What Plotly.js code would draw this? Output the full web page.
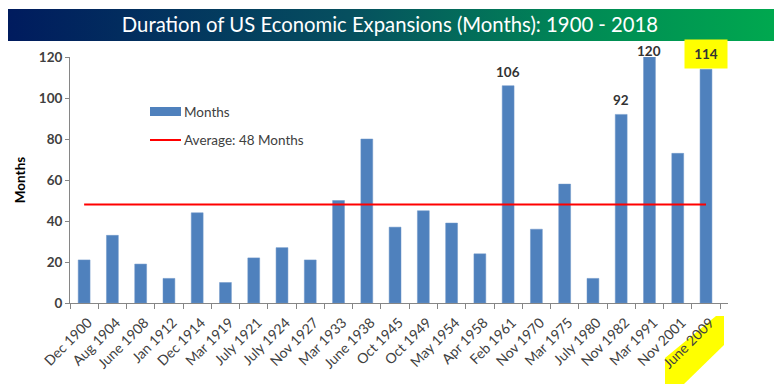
<!DOCTYPE html>
<html>
<head>
<meta charset="utf-8">
<script src="https://cdn.plot.ly/plotly-3.0.1.min.js"></script>
<style>html,body{margin:0;padding:0;background:#fff;}#chart{width:780px;height:389px;}</style>
</head>
<body>
<div id="chart"></div>
<script>
const categories = ["Dec 1900","Aug 1904","June 1908","Jan 1912","Dec 1914","Mar 1919","July 1921","July 1924","Nov 1927","Mar 1933","June 1938","Oct 1945","Oct 1949","May 1954","Apr 1958","Feb 1961","Nov 1970","Mar 1975","July 1980","Nov 1982","Mar 1991","Nov 2001","June 2009"];
const months = [21,33,19,12,44,10,22,27,21,50,80,37,45,39,24,106,36,58,12,92,120,73,114];
const averageMonths = 48;
const labeledCategories = ["Feb 1961","Nov 1982","Mar 1991","June 2009"];
const highlightedCategory = "June 2009";
const seriesNames = ["Months","Average: 48 Months"];
const chartTitle = "Duration of US Economic Expansions (Months): 1900 - 2018";
const yTitle = "Months";

// plot area geometry in pixels
const W = 780, H = 389;
const L = 70, R = 52, T = 57, B = 86;
const pw = W - L - R, ph = H - T - B;
const px = x => (x - L) / pw;
const py = y => (H - B - y) / ph;

const FONT = "Lato, 'Open Sans', sans-serif";
const TXT = "#404040";

const gradSvg = '<svg xmlns="http://www.w3.org/2000/svg" width="766" height="32" preserveAspectRatio="none">' +
  '<defs><linearGradient id="g" x1="0" y1="0" x2="1" y2="0">' +
  '<stop offset="0" stop-color="#001b5e"/><stop offset="0.45" stop-color="#06505f"/>' +
  '<stop offset="0.75" stop-color="#008a55"/><stop offset="1" stop-color="#00a84f"/>' +
  '</linearGradient></defs><rect width="766" height="32" fill="url(#g)"/></svg>';
const gradUri = "data:image/svg+xml;base64," + btoa(gradSvg);

const traces = [
  {
    type: "bar", x: categories, y: months, name: seriesNames[0],
    marker: {color: "#4f81bd", line: {color: "#6f97c9", width: 0.5}},
    showlegend: false, hoverinfo: "x+y"
  },
  {
    type: "scatter", mode: "lines", x: categories, y: categories.map(() => averageMonths),
    name: seriesNames[1], line: {color: "#ff0000", width: 2}, showlegend: false
  }
];

const annotations = labeledCategories.map(c => {
  const v = months[categories.indexOf(c)];
  const hl = c === highlightedCategory;
  const a = {
    x: c, y: v, xref: "x", yref: "y", text: String(v), showarrow: false,
    yanchor: "middle", yshift: v >= 120 ? 6 : (hl ? 15 : 14),
    font: {family: FONT, size: 13.5, color: "#333333", weight: "bold"}
  };
  if (hl) { a.bgcolor = "#ffff00"; a.width = 40; a.height = 26; }
  return a;
});

// custom legend texts
annotations.push(
  {xref: "paper", yref: "paper", x: px(182), y: py(112), xanchor: "left", yanchor: "middle",
   text: seriesNames[0], showarrow: false, font: {family: FONT, size: 13.5, color: TXT}},
  {xref: "paper", yref: "paper", x: px(182), y: py(140), xanchor: "left", yanchor: "middle",
   text: seriesNames[1], showarrow: false, font: {family: FONT, size: 13.5, color: TXT}}
);

const shapes = [
  // legend swatches
  {type: "rect", xref: "paper", yref: "paper", x0: px(150), x1: px(181), y0: py(107), y1: py(116),
   fillcolor: "#4f81bd", line: {width: 0}},
  {type: "line", xref: "paper", yref: "paper", x0: px(150), x1: px(181), y0: py(140), y1: py(140),
   line: {color: "#ff0000", width: 2}},
  // highlight behind last tick label
  {type: "path", xref: "paper", yref: "paper", layer: "below", fillcolor: "#ffff00", line: {width: 0},
   path: `M${px(716)},${py(316)} L${px(724)},${py(316)} L${px(724)},${py(345)} L${px(684)},${py(384)} L${px(665)},${py(384)} L${px(665)},${py(358)} Z`}
];

const layout = {
  width: W, height: H,
  margin: {l: L, r: R, t: T, b: B},
  paper_bgcolor: "#ffffff", plot_bgcolor: "rgba(0,0,0,0)",
  font: {family: FONT, color: TXT},
  title: {
    text: chartTitle, xref: "container", yref: "container", x: 390 / W, xanchor: "center",
    y: 1 - 25 / H, yanchor: "middle",
    font: {family: FONT, size: 20.3, color: "#ffffff"}
  },
  images: [{
    source: gradUri, xref: "paper", yref: "paper", x: px(8), y: py(9),
    sizex: 766 / pw, sizey: 32 / ph, sizing: "stretch", xanchor: "left", yanchor: "top", layer: "below"
  }],
  bargap: 0.58,
  xaxis: {
    type: "category", tickangle: -45, tickson: "boundaries", ticks: "outside", ticklen: 5,
    tickcolor: "#868686", showline: true, linecolor: "#868686", linewidth: 1,
    ticklabelstandoff: 5, ticklabelshift: 4,
    tickfont: {family: FONT, size: 14, color: TXT}, showgrid: false, zeroline: false, fixedrange: true
  },
  yaxis: {
    range: [0, 120], dtick: 20, ticks: "outside", ticklen: 4, tickcolor: "#868686",
    showline: true, linecolor: "#868686", linewidth: 1, showgrid: false, zeroline: false,
    tickfont: {family: FONT, size: 13.5, color: "#404040", weight: "bold"},
    title: {text: yTitle, standoff: 10, font: {family: FONT, size: 13.5, color: "#000000", weight: "bold"}},
    automargin: false
  },
  annotations: annotations,
  shapes: shapes,
  showlegend: false
};

Plotly.newPlot("chart", traces, layout, {displayModeBar: false, staticPlot: true});
</script>
</body>
</html>
